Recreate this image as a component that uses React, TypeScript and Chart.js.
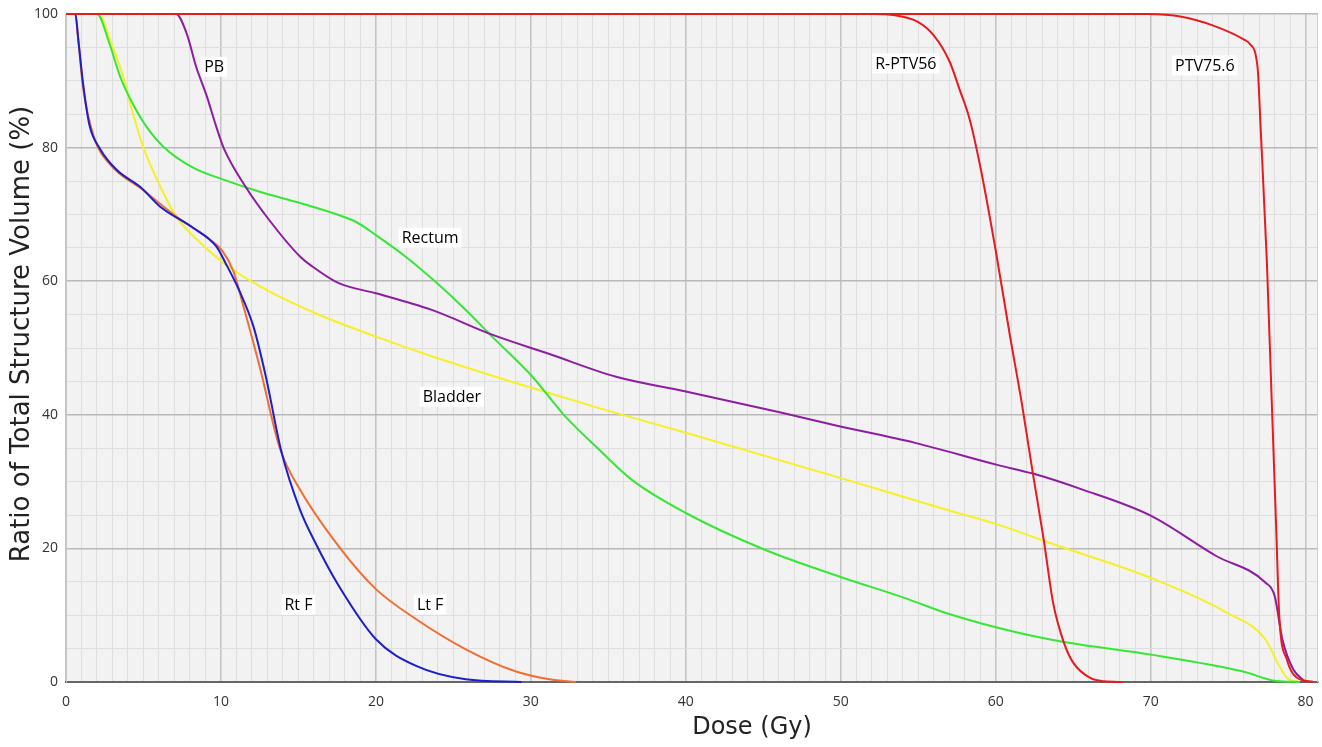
import React, { useEffect, useRef } from 'react';
import { Chart, registerables } from 'chart.js';

Chart.register(...registerables);

// ---- Data (dose in Gy, volume in %) ----
const rptv56Dose = [0, 52, 53.5, 55.0, 56.0, 57.0, 57.7, 58.3, 59.0, 60.0, 60.9, 61.7, 62.4, 63.1, 63.7, 64.4, 65.0, 66.1, 67.0, 68.2];
const rptv56Vol = [100, 100, 99.8, 98.8, 96.8, 93.0, 88.5, 84.4, 77.2, 64.6, 52.1, 41.5, 31.2, 21.3, 11.9, 5.9, 2.9, 0.6, 0.1, 0];

const ptv756Dose = [0, 69.8, 72.0, 74.0, 76.0, 76.4, 76.9, 77.1, 77.5, 77.8, 78.1, 78.3, 78.8, 79.4, 80.5];
const ptv756Vol = [100, 100, 99.6, 98.3, 96.2, 95.5, 92.0, 82.8, 62.9, 43.0, 23.2, 9.9, 3.3, 0.7, 0];

const pbDose = [0, 7.1, 7.8, 8.4, 9.1, 9.7, 10.2, 11.6, 13.1, 15.1, 15.9, 17.6, 20.0, 23.6, 27.5, 31.2, 35.5, 40.0, 46.2, 49.9, 54.8, 60.1, 62.4, 65.6, 70.0, 74.2, 77.4, 78.0, 78.5, 79.2, 80.0];
const pbVol = [100, 100, 97, 92.1, 87.6, 83.1, 79.8, 74.1, 69.2, 63.7, 62.2, 59.7, 58.2, 55.7, 52.0, 49.1, 45.7, 43.5, 40.3, 38.3, 35.8, 32.5, 31.2, 28.8, 24.9, 18.9, 14.9, 12.9, 6.4, 1.9, 0];

const rectumDose = [0, 2.0, 2.8, 3.5, 4.3, 5.2, 6.3, 8.2, 10.3, 12.5, 15.1, 17.6, 18.7, 20.0, 21.9, 23.7, 25.8, 27.5, 30.1, 32.2, 34.4, 36.5, 40.0, 45.1, 49.9, 54.1, 57.1, 61.4, 64.6, 70.0, 75.9, 78.1, 79.6];
const rectumVol = [100, 100, 95.6, 90.6, 86.6, 83.1, 80.1, 77.0, 75.1, 73.4, 71.7, 69.9, 68.9, 66.9, 63.7, 60.2, 55.7, 51.7, 45.7, 39.8, 34.8, 30.3, 25.3, 19.8, 15.8, 12.6, 10.1, 7.4, 5.9, 4.1, 1.6, 0.15, 0];

const bladderDose = [0, 2.1, 3.0, 3.7, 4.2, 5.0, 6.1, 7.1, 8.2, 10.3, 12.7, 16.1, 20.0, 23.7, 30.1, 34.4, 40.0, 49.9, 57.1, 60.1, 63.5, 70.0, 74.9, 77.4, 78.3, 78.9, 79.6];
const bladderVol = [100, 100, 95.1, 90.6, 86.1, 80.0, 74.1, 69.7, 66.8, 62.5, 59.0, 55.2, 51.7, 48.7, 44.0, 41.0, 37.3, 30.6, 25.6, 23.6, 20.8, 15.6, 10.4, 6.4, 2.4, 0.4, 0];

const rtFDose = [0, 0.6, 0.8, 1.1, 1.5, 2.2, 3.3, 4.8, 6.1, 8.2, 9.7, 10.3, 11.2, 12.1, 12.9, 13.9, 15.1, 16.1, 17.6, 20.0, 22.6, 25.8, 29.4];
const rtFVol = [100, 100, 96, 89.6, 83.5, 79.8, 76.6, 74.1, 71.1, 68.0, 65.2, 62.7, 58.5, 53.2, 45.7, 34.5, 25.8, 20.8, 14.4, 6.4, 2.4, 0.4, 0];

const ltFDose = [0, 0.6, 0.8, 1.1, 1.8, 2.8, 5.0, 7.1, 9.3, 10.1, 10.8, 11.4, 12.5, 13.8, 15.1, 17.6, 20.0, 22.6, 25.8, 29.0, 31.2, 32.9];
const ltFVol = [100, 100, 96, 89, 81.6, 77.6, 73.6, 69.7, 66.2, 64.5, 61.5, 56.7, 47.2, 35.0, 28.8, 20.3, 13.9, 9.4, 4.9, 1.6, 0.4, 0];

// Curve annotations (text, anchor in data units)
const labelTexts = ['PB', 'R-PTV56', 'PTV75.6', 'Rectum', 'Bladder', 'Rt F', 'Lt F'];
const labelDose = [9.56, 54.2, 73.5, 23.5, 24.9, 15.0, 23.5];
const labelVol = [92.1, 92.6, 92.3, 66.5, 42.7, 11.6, 11.6];

const xTitle = 'Dose (Gy)';
const yTitle = 'Ratio of Total Structure Volume (%)';

const pts = (xs: number[], ys: number[]) => xs.map((x, i) => ({ x, y: ys[i] }));

const plotBg = {
  id: 'plotBg',
  beforeDraw(chart: any) {
    const { ctx, chartArea: a } = chart;
    ctx.save();
    ctx.fillStyle = '#f2f2f2';
    ctx.fillRect(a.left, a.top, a.right - a.left, a.bottom - a.top);
    ctx.restore();
  },
  beforeDatasetsDraw(chart: any) {
    const { ctx, chartArea: a } = chart;
    ctx.save();
    ctx.strokeStyle = '#cfcfcf';
    ctx.lineWidth = 1;
    ctx.beginPath();
    ctx.moveTo(a.right - 0.5, a.top);
    ctx.lineTo(a.right - 0.5, a.bottom);
    ctx.stroke();
    ctx.restore();
  },
  afterDraw(chart: any) {
    const { ctx } = chart;
    ctx.save();
    ctx.fillStyle = '#222';
    ctx.textAlign = 'center';
    ctx.textBaseline = 'middle';
    ctx.font = '24px "DejaVu Sans", sans-serif';
    ctx.fillText(xTitle, 752, 728);
    ctx.translate(22, 334);
    ctx.rotate(-Math.PI / 2);
    ctx.font = '26px "DejaVu Sans", sans-serif';
    ctx.fillText(yTitle, 0, 0);
    ctx.restore();
  },
};

const curveLabels = {
  id: 'curveLabels',
  afterDatasetsDraw(chart: any) {
    const { ctx, scales } = chart;
    ctx.save();
    ctx.font = '16px "Open Sans", "Noto Sans", sans-serif';
    ctx.textAlign = 'center';
    ctx.textBaseline = 'middle';
    labelTexts.forEach((t, i) => {
      const px = scales.x.getPixelForValue(labelDose[i]);
      const py = scales.y.getPixelForValue(labelVol[i]);
      const w = ctx.measureText(t).width;
      ctx.fillStyle = '#ffffff';
      ctx.fillRect(px - w / 2 - 3, py - 10, w + 6, 20);
      ctx.fillStyle = '#000000';
      ctx.fillText(t, px, py + 1);
    });
    ctx.restore();
  },
};

const mk = (label: string, xs: number[], ys: number[], color: string) => ({
  label,
  data: pts(xs, ys),
  borderColor: color,
  backgroundColor: color,
  borderWidth: 2,
  pointRadius: 0,
  fill: false,
  cubicInterpolationMode: 'monotone' as const,
  clip: false as const,
});

const tickFont = { family: '"Open Sans", "Noto Sans", sans-serif', size: 14 };

export default function App() {
  const ref = useRef<HTMLCanvasElement | null>(null);
  useEffect(() => {
    if (!ref.current) return;
    const chart = new Chart(ref.current, {
      type: 'line',
      data: {
        datasets: [
          mk('R-PTV56', rptv56Dose, rptv56Vol, 'rgb(228,28,32)'),
          mk('PTV75.6', ptv756Dose, ptv756Vol, 'rgb(228,28,32)'),
          mk('Rt F', rtFDose, rtFVol, 'rgb(30,30,205)'),
          mk('Lt F', ltFDose, ltFVol, 'rgb(240,110,50)'),
          mk('PB', pbDose, pbVol, 'rgb(140,30,160)'),
          mk('Rectum', rectumDose, rectumVol, 'rgb(55,230,55)'),
          mk('Bladder', bladderDose, bladderVol, 'rgb(245,240,40)'),
        ],
      },
      options: {
        animation: false,
        responsive: true,
        maintainAspectRatio: false,
        layout: { padding: { top: 14, right: 4, left: 0, bottom: 0 } },
        plugins: { legend: { display: false }, tooltip: { enabled: false } },
        scales: {
          x: {
            type: 'linear',
            min: 0,
            max: 80.8,
            afterFit: (s: any) => { s.height = 65; s.paddingLeft = 0; s.paddingRight = 0; },
            ticks: {
              stepSize: 1,
              includeBounds: false,
              autoSkip: false,
              maxRotation: 0,
              padding: 12,
              color: '#333',
              font: tickFont,
              callback: (v: any) => (Math.abs(v % 10) < 1e-9 ? String(v) : ''),
            },
            grid: {
              drawTicks: false,
              color: (c: any) => (Math.abs(c.tick.value % 10) < 1e-9 ? '#c4c4c4' : '#dedede'),
              lineWidth: (c: any) => (Math.abs(c.tick.value % 10) < 1e-9 ? 1.6 : 1),
            },
            border: { display: true, color: '#666', width: 2 },
            title: { display: false, text: xTitle },
          },
          y: {
            type: 'linear',
            min: 0,
            max: 100,
            afterFit: (s: any) => { s.width = 66; s.paddingTop = 0; s.paddingBottom = 0; },
            ticks: {
              stepSize: 5,
              autoSkip: false,
              padding: 8,
              color: '#333',
              font: tickFont,
              callback: (v: any) => (v % 20 === 0 ? String(v) : ''),
            },
            grid: {
              drawTicks: false,
              color: (c: any) => (c.tick.value % 20 === 0 ? '#b8b8b8' : '#dedede'),
              lineWidth: (c: any) => (c.tick.value % 20 === 0 ? 1.6 : 1),
            },
            border: { display: true, color: '#c8c8c8', width: 1 },
            title: { display: false, text: yTitle },
          },
        },
      },
      plugins: [plotBg, curveLabels],
    });
    return () => chart.destroy();
  }, []);
  return (
    <div style={{ position: 'fixed', left: 0, top: 0, width: 1322, height: 747, background: '#fff' }}>
      <canvas ref={ref} />
    </div>
  );
}
